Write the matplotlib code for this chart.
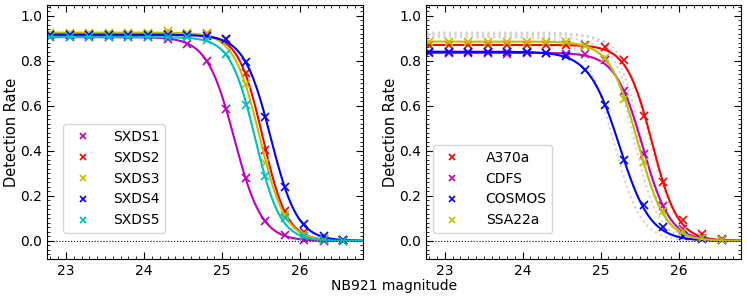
import numpy as np
import matplotlib
matplotlib.use('Agg')
import matplotlib.pyplot as plt
from matplotlib.ticker import MultipleLocator

# magnitude bins
mag = [22.8, 23.05, 23.3, 23.55, 23.8, 24.05, 24.3, 24.55, 24.8, 25.05,
       25.3, 25.55, 25.8, 26.05, 26.3, 26.55]

# left panel: SXDS fields
sxds1 = [0.905, 0.905, 0.905, 0.905, 0.905, 0.905, 0.895, 0.875, 0.80, 0.585,
         0.28, 0.09, 0.025, 0.005, 0.0, 0.0]
sxds2 = [0.92, 0.92, 0.92, 0.92, 0.92, 0.92, 0.92, 0.92, 0.92, 0.895,
         0.745, 0.405, 0.135, 0.04, 0.01, 0.005]
sxds3 = [0.925, 0.925, 0.925, 0.925, 0.925, 0.925, 0.93, 0.925, 0.925, 0.89,
         0.695, 0.345, 0.115, 0.03, 0.01, 0.005]
sxds4 = [0.915, 0.915, 0.915, 0.915, 0.915, 0.915, 0.915, 0.915, 0.91, 0.895,
         0.795, 0.55, 0.24, 0.075, 0.02, 0.005]
sxds5 = [0.905, 0.905, 0.905, 0.905, 0.905, 0.905, 0.905, 0.905, 0.89, 0.83,
         0.605, 0.29, 0.10, 0.02, 0.005, 0.0]

# right panel
a370a = [0.87, 0.87, 0.87, 0.87, 0.87, 0.87, 0.87, 0.87, 0.87, 0.86,
         0.805, 0.555, 0.26, 0.095, 0.03, 0.01]
cdfs = [0.835, 0.835, 0.835, 0.835, 0.83, 0.835, 0.835, 0.83, 0.83, 0.805,
        0.665, 0.385, 0.155, 0.055, 0.015, 0.005]
cosmos = [0.84, 0.84, 0.84, 0.84, 0.84, 0.84, 0.835, 0.82, 0.76, 0.605,
          0.36, 0.16, 0.06, 0.02, 0.01, 0.005]
ssa22a = [0.885, 0.885, 0.885, 0.885, 0.885, 0.885, 0.885, 0.885, 0.865, 0.81,
          0.63, 0.35, 0.135, 0.045, 0.015, 0.005]

left_names = ['SXDS1', 'SXDS2', 'SXDS3', 'SXDS4', 'SXDS5']
left_data = [sxds1, sxds2, sxds3, sxds4, sxds5]
left_cols = ['m', 'r', 'y', 'b', 'c']
# fit params: amplitude, 50% magnitude, width
left_fit = [(0.905, 25.157, 0.176), (0.92, 25.52, 0.156), (0.925, 25.48, 0.164),
            (0.915, 25.623, 0.171), (0.905, 25.425, 0.16)]

right_names = ['A370a', 'CDFS', 'COSMOS', 'SSA22a']
right_data = [a370a, cdfs, cosmos, ssa22a]
right_cols = ['r', 'm', 'b', 'y']
right_fit = [(0.87, 25.66, 0.165), (0.835, 25.54, 0.176),
             (0.84, 25.243, 0.197), (0.885, 25.473, 0.178)]


def model(x, a, m0, w):
    return a / (1 + np.exp((x - m0) / w))


xx = np.linspace(22.7, 26.9, 400)

fig = plt.figure(figsize=(7.47, 2.98), dpi=100)
ax1 = fig.add_axes([0.0633, 0.131, 0.4222, 0.852])
ax2 = fig.add_axes([0.5703, 0.131, 0.4217, 0.852])

for n, d, c, p in zip(left_names, left_data, left_cols, left_fit):
    ax1.plot(xx, model(xx, *p), color=c, lw=1.5)
    ax1.plot(mag, d, 'x', color=c, ms=6, mew=1.2, label=n)

for p in left_fit:
    ax2.plot(xx, model(xx, *p), color='lightgray', ls=':', lw=1.5)
for n, d, c, p in zip(right_names, right_data, right_cols, right_fit):
    ax2.plot(xx, model(xx, *p), color=c, lw=1.5)
    ax2.plot(mag, d, 'x', color=c, ms=6, mew=1.2, label=n)

for ax in (ax1, ax2):
    ax.axhline(0, color='k', ls=':', lw=0.8)
    ax.set_xlim(22.76, 26.8)
    ax.set_ylim(-0.08, 1.047)
    ax.set_ylabel('Detection Rate', fontsize=10.5, labelpad=1)
    ax.xaxis.set_major_locator(MultipleLocator(1))
    ax.xaxis.set_minor_locator(MultipleLocator(0.1))
    ax.yaxis.set_major_locator(MultipleLocator(0.2))
    ax.yaxis.set_minor_locator(MultipleLocator(0.02))
    ax.tick_params(which='both', direction='in', top=True, right=True, labelsize=10)
    ax.tick_params(which='major', length=5)
    ax.tick_params(which='minor', length=2.5)

ax1.legend(loc='lower left', bbox_to_anchor=(0.028, 0.075), fontsize=10,
           markerscale=0.8, handletextpad=1.2)
ax2.legend(loc='lower left', bbox_to_anchor=(0.0, 0.075), fontsize=10,
           markerscale=0.8, handletextpad=1.4)

fig.text(0.528, 0.04, 'NB921 magnitude', ha='center', va='center', fontsize=10)

fig.savefig('out.png', dpi=100)
